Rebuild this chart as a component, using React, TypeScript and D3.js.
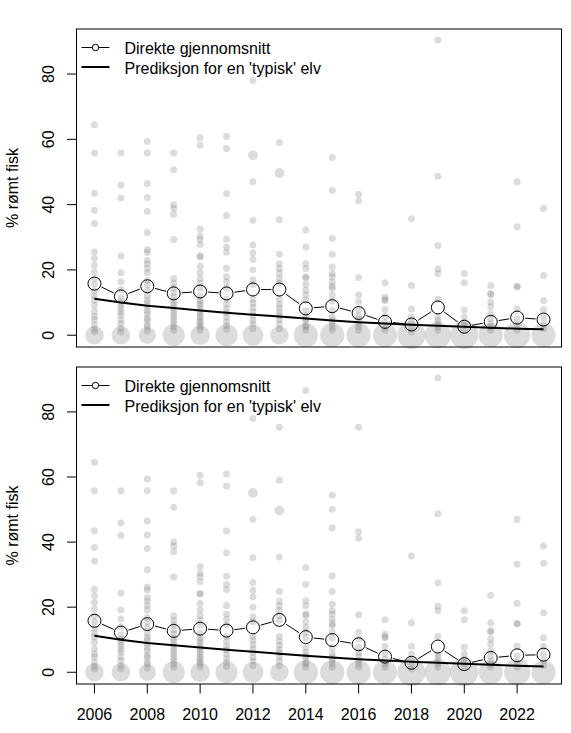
import React from 'react';
import * as d3 from 'd3';

const years = [2006, 2007, 2008, 2009, 2010, 2011, 2012, 2013, 2014, 2015, 2016, 2017, 2018, 2019, 2020, 2021, 2022, 2023];

// direkte gjennomsnitt per år
const meanTop = [15.8, 11.9, 15.0, 12.8, 13.4, 12.8, 14.0, 14.0, 8.2, 8.9, 6.8, 4.1, 3.3, 8.5, 2.6, 4.1, 5.4, 4.8];
const meanBottom = [15.8, 12.2, 14.8, 12.7, 13.4, 12.8, 13.8, 16.1, 10.8, 9.9, 8.6, 4.8, 2.9, 7.9, 2.5, 4.4, 5.2, 5.4];

// prediksjon for en 'typisk' elv
const prediction = [11.2, 10.0, 9.0, 8.3, 7.6, 6.9, 6.3, 5.7, 5.1, 4.5, 4.0, 3.6, 3.2, 2.9, 2.6, 2.3, 2.0, 1.8];

// antall elver med 0 % rømt fisk (størrelse på de store punktene)
const zeroCounts = [7, 7, 6, 10, 8, 10, 9, 7, 12, 12, 12, 12, 16, 14, 16, 12, 14, 12];

// enkeltelver per år: % rømt fisk
const riverValues: [number, number[]][] = [
  [2006, [64.5, 55.8, 43.5, 38.3, 34.2, 25.5, 23.5, 21.4, 19.4, 17.4, 15.5, 13.5, 12, 10.8, 9.2, 7.2, 5.7, 4.7, 3.1, 1.8, 1]],
  [2007, [55.8, 45.9, 42, 24.3, 19.1, 16.4, 14, 11.5, 10.2, 9.2, 8.2, 7.1, 6.2, 4.7, 3.6, 2.1, 1]],
  [2008, [59.4, 55.8, 46.5, 42.2, 38, 31.5, 26.2, 25.3, 23, 21.9, 20.5, 19.1, 16.8, 15.5, 13.8, 12, 10.7, 9.8, 8.7, 7.5, 6.6, 5.2, 4.6, 3.2, 2.5, 1.2]],
  [2009, [55.8, 50.7, 40, 38.8, 37, 29.3, 17.4, 15.9, 14.5, 13, 11.8, 10.5, 9.5, 8.5, 7.5, 6.5, 5.5, 4.5, 3.5, 2.5, 1.5]],
  [2010, [60.5, 58.2, 32.5, 30.4, 29.4, 27.8, 24.3, 24, 21.1, 19.1, 17.4, 16, 14.5, 12, 10.7, 9.8, 9, 8, 7.1, 6.2, 5.5, 4.6, 4, 3.2, 2.5, 1.5]],
  [2011, [60.9, 57.2, 43.4, 36.7, 29.5, 27, 25.4, 20.5, 17.9, 16.3, 14.5, 11, 9.5, 8, 6.8, 5.5, 4.2, 3, 1.8]],
  [2012, [78, 47, 35.2, 27.6, 25.2, 23.2, 20, 17, 15.5, 11, 9.8, 8.5, 7.2, 6, 4.5, 3.5, 2]],
  [2013, [59, 35.4, 24.8, 21.9, 20.4, 19, 17.4, 16, 11, 9.5, 8.3, 7, 6, 4.8, 3.5, 2]],
  [2014, [32.2, 27, 22, 20.4, 17.9, 17.5, 15.5, 13.8, 12.3, 10.7, 7.5, 6, 5, 4.5, 3, 2.5, 1.5]],
  [2015, [54.4, 44.3, 29.6, 24.8, 20.9, 18.9, 17.9, 16.3, 15, 14.3, 12.3, 10.5, 7.5, 5.6, 4.5, 3.6, 2.5, 1.5]],
  [2016, [43.2, 41.2, 17.7, 12.3, 10.2, 7.7, 6, 5, 3.6, 2.5, 1.5]],
  [2017, [16.1, 11.7, 10.9, 10.6, 7.9, 5.8, 4, 2.5, 1.5]],
  [2018, [35.7, 15.2, 8, 5.6, 4, 2, 1]],
  [2019, [90.4, 48.7, 27.5, 20.3, 18.9, 11, 5.6, 4.5, 3.5, 2.5, 1.5]],
  [2020, [18.9, 16.1, 7.7, 5.6, 4, 3, 1.5]],
  [2021, [15.2, 12.8, 12.4, 10.2, 8.7, 6.6, 5, 3.5, 2.5, 1.5]],
  [2022, [47, 33.2, 15, 14.8, 8, 5, 3, 1.5]],
  [2023, [38.8, 18.3, 10.6, 7.9, 5.5, 3.5, 2]],
];

// store elver (dobbel vekt): [år, % rømt]
const largeRivers: [number, number][] = [[2012, 55.1], [2013, 49.7]];

// elver som bare er med i nederste panel
const extraBottom: [number, number][] = [
  [2013, 75.3], [2014, 86.6], [2015, 50.1], [2016, 75.3], [2021, 23.7], [2022, 21.2], [2023, 33.5],
];

const yTicks = [0, 20, 40, 60, 80];
const xTicks = [2006, 2008, 2010, 2012, 2014, 2016, 2018, 2020, 2022];

const legendLabels = ['Direkte gjennomsnitt', "Prediksjon for en 'typisk' elv"];
const yTitle = '% rømt fisk';

const FONT = "'Liberation Sans', Arial, sans-serif";
const W = 571;
const H = 733;
const LEFT = 76.5;
const RIGHT = 561.5;

const x = d3.scaleLinear().domain([2006 - 0.68, 2023 + 0.68]).range([LEFT, RIGHT]);
const size = d3.scaleSqrt().domain([0, 16]).range([0, 14]);

type Pt = { year: number; value: number; weight: number };

const topPoints: Pt[] = [
  ...riverValues.flatMap(([year, vals]) => vals.map(value => ({ year, value, weight: 1 }))),
  ...largeRivers.map(([year, value]) => ({ year, value, weight: 2 })),
];
const bottomPoints: Pt[] = [...topPoints, ...extraBottom.map(([year, value]) => ({ year, value, weight: 1 }))];

interface PanelProps {
  top: number;
  bottom: number;
  points: Pt[];
  means: number[];
  showXAxis: boolean;
}

const Panel: React.FC<PanelProps> = ({ top, bottom, points, means, showXAxis }) => {
  const y = d3.scaleLinear().domain([-3.61, 93.8]).range([bottom, top]);
  const r = 6.5;

  const meanPts = years.map((yr, i) => ({ x: x(yr), y: y(means[i]) }));
  const segs = meanPts.slice(1).map((p2, i) => {
    const p1 = meanPts[i];
    const dx = p2.x - p1.x;
    const dy = p2.y - p1.y;
    const len = Math.hypot(dx, dy);
    const gap = r + 1.5;
    if (len <= gap * 2) return null;
    const ux = dx / len;
    const uy = dy / len;
    return { x1: p1.x + ux * gap, y1: p1.y + uy * gap, x2: p2.x - ux * gap, y2: p2.y - uy * gap };
  });

  const predLine = d3
    .line<number>()
    .x((_, i) => x(years[i]))
    .y(d => y(d))(prediction);

  const mid = (top + bottom) / 2;

  return (
    <g>
      {/* store punkter: elver med 0 % */}
      {zeroCounts.map((n, i) => (
        <circle key={'z' + i} cx={x(years[i])} cy={y(0)} r={size(n)} fill="#808080" fillOpacity={0.28} />
      ))}
      {points.map((p, i) => (
        <circle key={'p' + i} cx={x(p.year)} cy={y(p.value)} r={size(p.weight)} fill="#808080" fillOpacity={0.28} />
      ))}

      <path d={predLine ?? ''} fill="none" stroke="#000" strokeWidth={2} />

      {segs.map((s, i) =>
        s ? <line key={'s' + i} x1={s.x1} y1={s.y1} x2={s.x2} y2={s.y2} stroke="#000" strokeWidth={1} /> : null
      )}
      {meanPts.map((p, i) => (
        <circle key={'m' + i} cx={p.x} cy={p.y} r={r} fill="none" stroke="#000" strokeWidth={1} />
      ))}

      <rect x={LEFT} y={top} width={RIGHT - LEFT} height={bottom - top} fill="none" stroke="#000" strokeWidth={1} />

      {yTicks.map(t => (
        <g key={'yt' + t}>
          <line x1={67} x2={LEFT} y1={y(t)} y2={y(t)} stroke="#000" strokeWidth={1} />
          <text
            transform={`translate(53.5,${y(t)}) rotate(-90)`}
            textAnchor="middle"
            fontFamily={FONT}
            fontSize={16}
          >
            {t}
          </text>
        </g>
      ))}
      <text transform={`translate(18,${mid}) rotate(-90)`} textAnchor="middle" fontFamily={FONT} fontSize={16}>
        {yTitle}
      </text>

      {/* legende */}
      <line x1={81.5} x2={109.5} y1={top + 18.5} y2={top + 18.5} stroke="#000" strokeWidth={1} />
      <circle cx={95.5} cy={top + 18.5} r={3.2} fill="#fff" stroke="#000" strokeWidth={1} />
      <line x1={81.5} x2={109.5} y1={top + 38} y2={top + 38} stroke="#000" strokeWidth={2} />
      <text x={124.5} y={top + 25.3} fontFamily={FONT} fontSize={16}>{legendLabels[0]}</text>
      <text x={124.5} y={top + 44.8} fontFamily={FONT} fontSize={16}>{legendLabels[1]}</text>

      {showXAxis &&
        xTicks.map(t => (
          <g key={'xt' + t}>
            <line x1={x(t)} x2={x(t)} y1={bottom} y2={bottom + 9.5} stroke="#000" strokeWidth={1} />
            <text x={x(t)} y={bottom + 35.5} textAnchor="middle" fontFamily={FONT} fontSize={16}>
              {t}
            </text>
          </g>
        ))}
    </g>
  );
};

export default function App() {
  return (
    <>
      <style>{'body{margin:0}'}</style>
      <svg width={W} height={H} style={{ display: 'block', background: '#fff' }}>
        <Panel top={29} bottom={347} points={topPoints} means={meanTop} showXAxis={false} />
        <Panel top={367} bottom={684} points={bottomPoints} means={meanBottom} showXAxis={true} />
      </svg>
    </>
  );
}
